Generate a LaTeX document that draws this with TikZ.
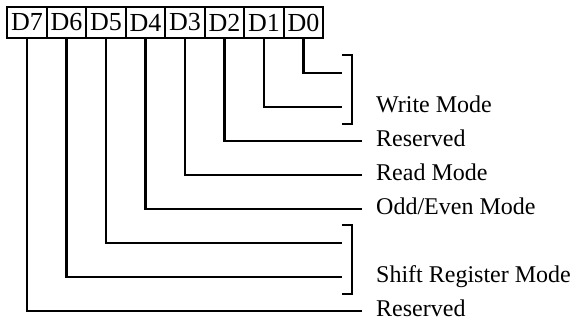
\documentclass[tikz,border=0pt]{standalone}
\usepackage{fontspec}
\setmainfont{Liberation Serif}
\usetikzlibrary{positioning}

\begin{document}
\begin{tikzpicture}[x=0.5pt, y=-0.5pt, line width=1.2pt,
  bitbox/.style={draw, minimum width=19.75pt, minimum height=15.5pt, inner sep=0pt,
    font=\fontsize{13}{13}\selectfont},
  fieldlbl/.style={anchor=west, inner xsep=6.5pt, inner ysep=0pt,
    text height=6.9pt, text depth=1pt, font=\fontsize{12}{12}\selectfont}]
\useasboundingbox (0,0) rectangle (576,320);
% register bits
\node[bitbox] (b7) at (27,22.5) {D7};
\node[bitbox] (b6) at (66.5,22.5) {D6};
\node[bitbox] (b5) at (106,22.5) {D5};
\node[bitbox] (b4) at (145.5,22.5) {D4};
\node[bitbox] (b3) at (185,22.5) {D3};
\node[bitbox] (b2) at (224.5,22.5) {D2};
\node[bitbox] (b1) at (264,22.5) {D1};
\node[bitbox] (b0) at (303.5,22.5) {D0};
% field names
\node[fieldlbl] (wmode) at (362,107) {Write Mode};
\node[fieldlbl] (res2) at (362,141) {Reserved};
\node[fieldlbl] (rmode) at (362,175) {Read Mode};
\node[fieldlbl] (oemode) at (362,209) {Odd/Even Mode};
\node[fieldlbl] (srmode) at (362,277) {Shift Register Mode};
\node[fieldlbl] (res7) at (362,311) {Reserved};
% ends of the bracketed lines
\coordinate (e0) at (342,73);
\coordinate (e1) at (342,107);
\coordinate (e5) at (342,243);
\coordinate (e6) at (342,277);
\draw (b0.south) |- (e0);
\draw (b1.south) |- (e1);
\draw (b2.south) |- (res2.west);
\draw (b3.south) |- (rmode.west);
\draw (b4.south) |- (oemode.west);
\draw (b5.south) |- (e5);
\draw (b6.south) |- (e6);
\draw (b7.south) |- (res7.west);
% brackets
\draw (342,55) -- (352,55) -- (352,124) -- (342,124);
\draw (342,225) -- (352,225) -- (352,294) -- (342,294);
\end{tikzpicture}
\end{document}
